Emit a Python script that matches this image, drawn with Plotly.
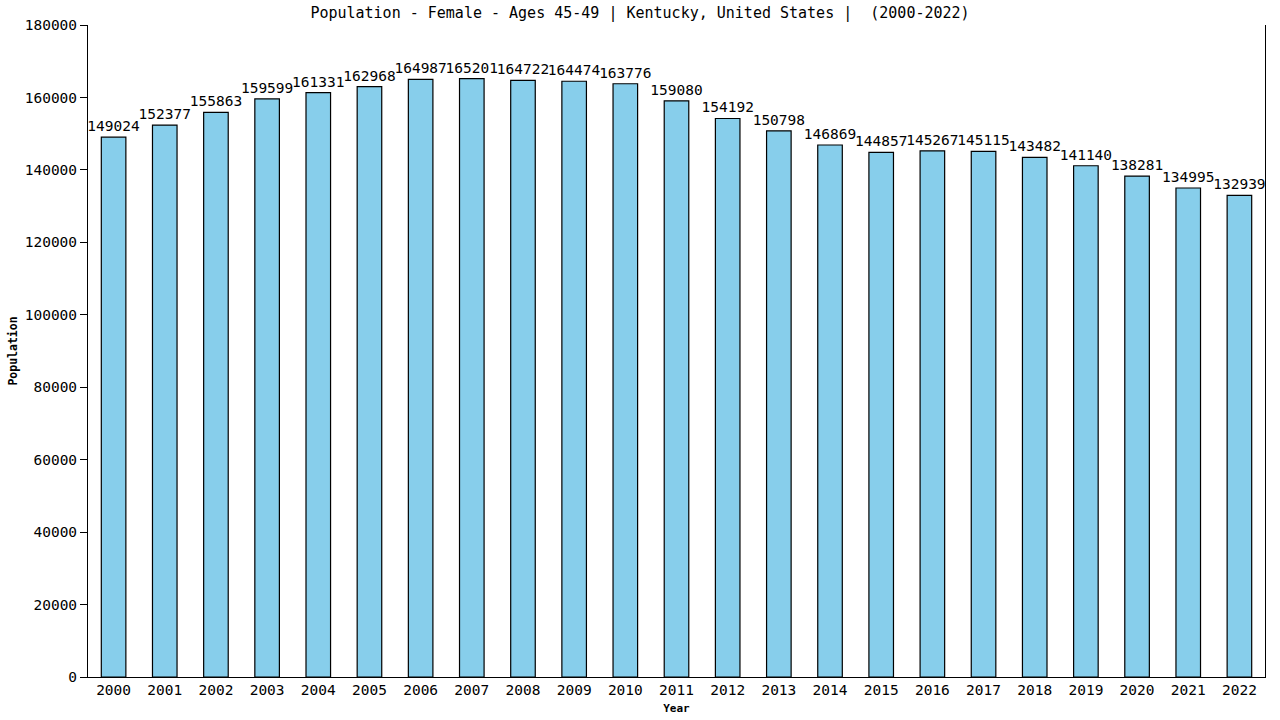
import plotly.graph_objects as go

years = [str(y) for y in range(2000, 2023)]
population = [149024, 152377, 155863, 159599, 161331, 162968, 164987, 165201, 164722,
              164474, 163776, 159080, 154192, 150798, 146869, 144857, 145267, 145115,
              143482, 141140, 138281, 134995, 132939]
y_ticks = list(range(0, 180001, 20000))

FONT = "DejaVu Sans Mono"

fig = go.Figure()
fig.add_trace(go.Bar(
    x=years, y=population,
    width=0.48,
    marker=dict(color="#87CEEB", line=dict(color="black", width=1.2)),
    text=[str(v) for v in population],
    textposition="outside",
    constraintext="none",
    textfont=dict(family=FONT, size=14.5, color="black"),
    cliponaxis=False,
))

fig.update_layout(
    width=1280, height=720,
    margin=dict(l=88, r=15, t=25, b=43, autoexpand=False),
    paper_bgcolor="white", plot_bgcolor="white",
    font=dict(family=FONT, color="black", size=14),
    title=dict(text="Population - Female - Ages 45-49 | Kentucky, United States |  (2000-2022)",
               x=0.5, xanchor="center", y=0.982, yanchor="middle",
               font=dict(family=FONT, size=15, color="black")),
    showlegend=False,
    uniformtext=dict(mode=False),
)
fig.update_xaxes(
    type="category", range=[-0.5, 22.5], automargin=False,
    showline=True, linecolor="black", linewidth=1,
    ticks="", showgrid=False,
    tickfont=dict(family=FONT, size=14.5),
    title=dict(text="<b>Year</b>", font=dict(family=FONT, size=11), standoff=6),
)
fig.update_yaxes(
    range=[0, 180000], automargin=False,
    tickvals=y_ticks, ticktext=[str(v) for v in y_ticks],
    showline=True, linecolor="black", linewidth=1, mirror=True,
    ticks="outside", ticklen=7, tickcolor="black",
    showgrid=False, zeroline=False,
    tickfont=dict(family=FONT, size=14.5),
    title=dict(text="<b>Population</b>", font=dict(family=FONT, size=11.5), standoff=4),
)

fig.write_html("out.html", config={"displayModeBar": False},
               post_script="document.body.style.margin='0';")
